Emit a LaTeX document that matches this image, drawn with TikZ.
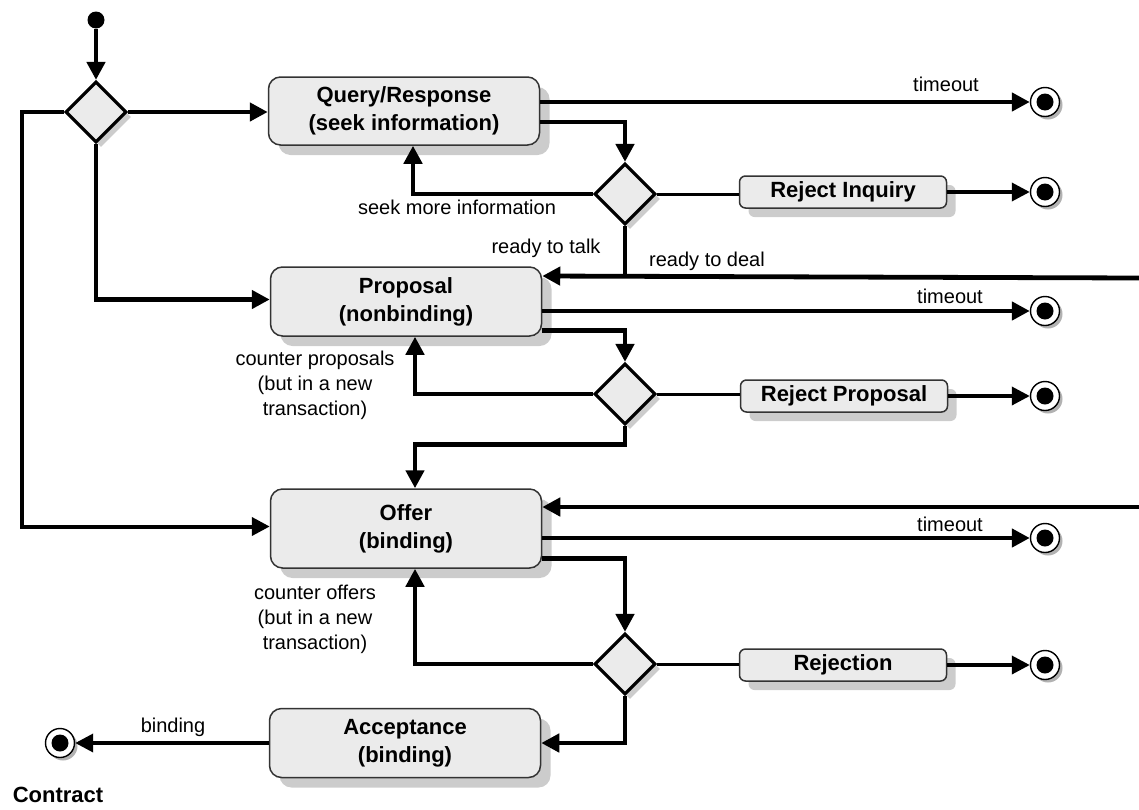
\documentclass[tikz,border=0pt]{standalone}
\usepackage{fontspec}
\setmainfont{Liberation Sans}
\usetikzlibrary{arrows.meta,shapes.geometric,shadows,patterns,calc}

\newcommand\statefont{\fontsize{22}{28}\selectfont\bfseries}
\newcommand\notefont{\fontsize{20}{25}\selectfont}

\begin{document}
\begin{tikzpicture}[x=1pt,y=-1pt,
  dotshadow/.style={drop shadow={shadow xshift=#1, shadow yshift=-#1, opacity=1,
      fill=gray!40}},
  state/.style={draw=gray!40!black, line width=1.5pt, fill=gray!16,
      rounded corners=12pt, minimum width=271pt, align=center,
      font=\statefont, dotshadow=10pt},
  smallstate/.style={draw=gray!40!black, line width=1.5pt, fill=gray!16,
      rounded corners=6pt, minimum width=207pt, minimum height=32pt,
      font=\statefont, dotshadow=9pt},
  decision/.style={diamond, aspect=1, draw=black, line width=3.2pt, fill=gray!16,
      minimum size=61pt, inner sep=0pt, dotshadow=5pt},
  endstate/.style={circle, draw=black, line width=1.4pt, fill=white,
      minimum size=29pt, inner sep=0pt,
      path picture={\fill[black] (path picture bounding box.center) circle (8.5pt);},
      drop shadow={shadow xshift=3pt, shadow yshift=-3pt, fill=gray!60, opacity=1}},
  startstate/.style={circle, fill=black, minimum size=17pt, inner sep=0pt},
  note/.style={font=\notefont, align=center, inner sep=1pt},
  conn/.style={line width=4.8pt, -{Triangle[length=18pt,width=18pt]}},
  plain/.style={line width=4.8pt},
  thin/.style={line width=3pt},
  thinconn/.style={line width=3.6pt, -{Triangle[length=18pt,width=18pt]}}
]
\useasboundingbox (0,0) rectangle (1139,809);

% activity states
\node[state, minimum height=68pt] (query) at (404,111) {Query/Response\\(seek information)};
\node[state, minimum height=69pt] (proposal) at (406,301.5) {Proposal\\(nonbinding)};
\node[state, minimum height=79pt] (offer) at (406,528.5) {Offer\\(binding)};
\node[state, minimum height=69pt] (accept) at (405,743) {Acceptance\\(binding)};

\node[smallstate] (rejinq) at (843,192) {Reject Inquiry};
\node[smallstate] (rejprop) at (844,396) {Reject Proposal};
\node[smallstate] (rejection) at (843,665) {Rejection};

% decisions
\node[decision] (d1) at (96,112) {};
\node[decision] (d2) at (625,194) {};
\node[decision] (d3) at (625,394) {};
\node[decision] (d4) at (625,664) {};

% initial and final states
\node[startstate] (start) at (96,20) {};
\node[endstate] (e1) at (1045,102) {};
\node[endstate] (e2) at (1045,192) {};
\node[endstate] (e3) at (1045,311) {};
\node[endstate] (e4) at (1045,396) {};
\node[endstate] (e5) at (1045,538) {};
\node[endstate] (e6) at (1045,665) {};
\node[endstate] (contract) at (60,743) {};
\node[font=\fontsize{22}{26}\selectfont\bfseries] (ctrlabel) at (58,795) {Contract};

% entry points from the right-hand side
\coordinate (lft) at (22,0);
\coordinate (deal) at (1139,278);
\coordinate (offerin) at (1139,507);

% connectors from the first decision
\draw[conn] (start) -- (d1.north);
\draw[conn] (d1.east) -- (d1.east -| query.west);
\draw[conn] (d1.south) |- ([yshift=2pt]proposal.west);
\draw[conn, line width=4pt] (d1.west) -- (d1.west -| lft) |- ([yshift=2pt]offer.west);

% query / response
\draw[conn] (query.east |- e1) -- (e1.west);
\draw[conn] ([yshift=-11pt]query.east) -| (d2.north);
\draw[conn] (d2.west) -| ([xshift=9pt]query.south);
\draw[thin] (d2.east) -- (d2.east -| rejinq.west);
\draw[thinconn] (rejinq.east) -- (e2.west);
\draw[plain] (d2.south) -- (d2.south |- deal);
\draw[conn] (deal) -- ([yshift=2pt]proposal.east |- deal);

% proposal
\draw[conn] (proposal.east |- e3) -- (e3.west);
\draw[conn] ([yshift=-29pt]proposal.east) -| (d3.north);
\draw[conn] (d3.west) -| ([xshift=9pt]proposal.south);
\draw[thin] (d3.east) -- (d3.east -| rejprop.west);
\draw[thinconn] (rejprop.east) -- (e4.west);
\draw[conn] (d3.south) -- ++(0,18) -| ([xshift=9pt]offer.north);

% offer
\draw[conn] (offerin) -- (offer.east |- offerin);
\draw[conn] (offer.east |- e5) -- (e5.west);
\draw[conn] ([yshift=-30pt]offer.east) -| (d4.north);
\draw[conn] (d4.west) -| ([xshift=9pt]offer.south);
\draw[thin] (d4.east) -- (d4.east -| rejection.west);
\draw[thinconn] (rejection.east) -- (e6.west);
\draw[conn] (d4.south) |- (accept.east);

% acceptance
\draw[thinconn] (accept.west) -- (contract.east);

% guard labels
\node[note] (lt1) at (946,84) {timeout};
\node[note] (lt2) at (950,296) {timeout};
\node[note] (lt3) at (950,524) {timeout};
\node[note] (lseek) at (457,207) {seek more information};
\node[note] (ltalk) at (546,248) {ready to talk};
\node[note] (ldeal) at (707,261) {ready to deal};
\node[note] (lcprop) at (315,385) {counter proposals\\(but in a new\\transaction)};
\node[note] (lcoff) at (315,619) {counter offers\\(but in a new\\transaction)};
\node[note] (lbind) at (173,727) {binding};
\end{tikzpicture}
\end{document}
